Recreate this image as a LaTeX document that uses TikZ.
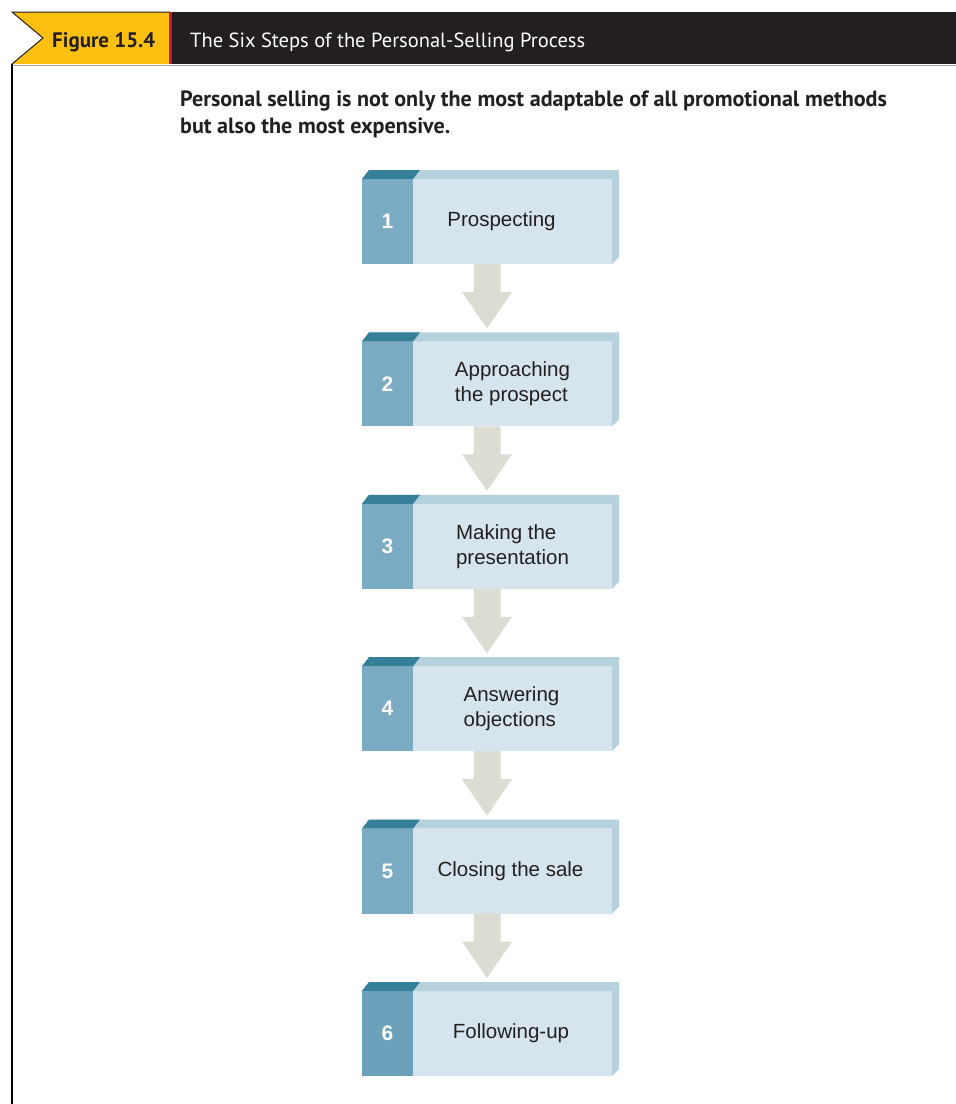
\documentclass[tikz,border=0pt]{standalone}
\usepackage{fontspec}
\setmainfont{Liberation Sans}
\newfontfamily\hdrfont{PT Sans}
\usetikzlibrary{calc}
\definecolor{ribbon}{HTML}{FDC010}
\definecolor{barblack}{HTML}{231F20}
\definecolor{ribbonred}{HTML}{C41E2A}
\definecolor{facelight}{HTML}{D6E5ED}
\definecolor{colmid}{HTML}{7BABC3}
\definecolor{colsix}{HTML}{6BA1BA}
\definecolor{topdark}{HTML}{357F98}
\definecolor{toplight}{HTML}{B6D1DE}
\definecolor{arrowc}{HTML}{DCDCD3}
\definecolor{textdark}{HTML}{231F20}
\tikzset{
  face/.style={fill=facelight, minimum width=250pt, minimum height=85pt, inner sep=0pt, outer sep=0pt},
  numcol/.style={fill=colmid, minimum width=51pt, minimum height=85pt, inner sep=0pt, outer sep=0pt,
    text=white, font=\fontsize{21}{24}\selectfont\bfseries},
  lbl/.style={text=textdark, align=left, inner sep=0pt, font=\fontsize{20.5}{25}\selectfont},
  blockarrow/.style={fill=arrowc},
}
\begin{document}
\begin{tikzpicture}[x=1pt,y=-1pt]
\useasboundingbox (0,0) rectangle (956,1104);
% header
\fill[barblack] (170,12) rectangle (956,64);
\fill[ribbon] (12,12) -- (170,12) -- (170,64) -- (12,64) -- (43,38) -- cycle;
\draw[barblack, line width=1pt] (12,64) -- (43,38) -- (12,12) -- (170,12);
\fill[ribbonred] (168.5,12) rectangle (171.5,64);
\draw[black!35, line width=1pt] (12,65) -- (956,65);
\draw[black, line width=1.8pt] (12,64) -- (12,1104);
\node[anchor=base west, inner sep=0pt, text=barblack, font=\hdrfont\bfseries\fontsize{21}{24}\selectfont] (fig) at (52,47) {Figure 15.4};
\node[anchor=base west, inner sep=0pt, text=white, font=\hdrfont\fontsize{20.5}{24}\selectfont] (title) at (190,47) {The Six Steps of the Personal-Selling Process};
\node[anchor=north west, inner sep=0pt, text=textdark, align=left, font=\hdrfont\bfseries\fontsize{22.1}{27}\selectfont] (sub) at (180,91)
  {Personal selling is not only the most adaptable of all promotional methods\\but also the most expensive.};
% steps
\foreach \k/\lx/\txt in {1/501.5/Prospecting, 2/512.5/{Approaching\\the prospect}, 3/512.5/{Making the\\presentation},
  4/511.5/{Answering\\objections}, 5/510.5/{Closing the sale}, 6/511/{Following-up}}{
  \pgfmathsetmacro\yc{179+162.4*(\k-1)+42.5}
  \node[face] (f\k) at (487,\yc) {};
  \ifnum\k=6
    \node[numcol, fill=colsix, anchor=west] (n\k) at (f\k.west) {\k};
  \else
    \node[numcol, anchor=west] (n\k) at (f\k.west) {\k};
  \fi
  \fill[toplight] (f\k.north west) -- ++(7,-9) -- ($(f\k.north east)+(7,-9)$) -- (f\k.north east) -- cycle;
  \fill[topdark] (f\k.north west) -- ++(7,-9) -- ($(n\k.north east)+(7,-9)$) -- (n\k.north east) -- cycle;
  \fill[toplight] (f\k.north east) -- ++(7,-9) -- ($(f\k.south east)+(7,-7)$) -- (f\k.south east) -- cycle;
  \node[lbl] (t\k) at (\lx,\yc) {\txt};
}
% arrows
\foreach \k in {1,...,5}{
  \pgfmathtruncatemacro\kk{\k+1}
  \fill[blockarrow] ($(f\k.south)+(-13.5,0)$) -- ($(f\k.south)+(13.5,0)$) -- ($(f\k.south)+(13.5,28)$)
    -- ($(f\k.south)+(25,28)$) -- ($(f\kk.north)+(0,-13)$) -- ($(f\k.south)+(-25,28)$)
    -- ($(f\k.south)+(-13.5,28)$) -- cycle;
}
\end{tikzpicture}
\end{document}
